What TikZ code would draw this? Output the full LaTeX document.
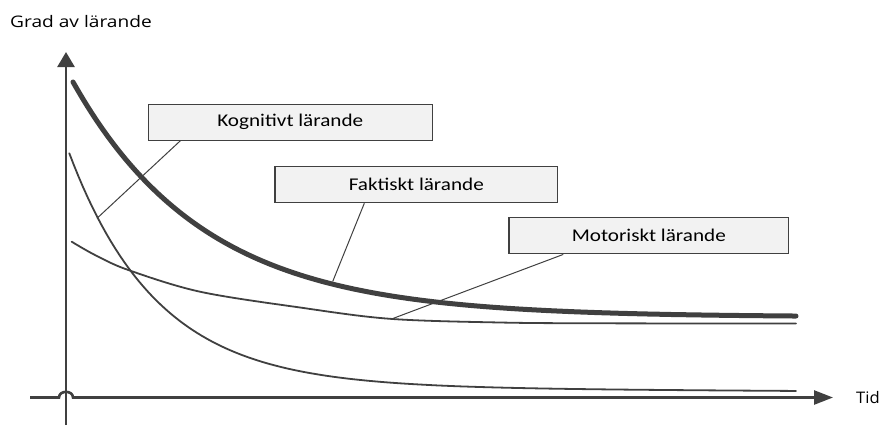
\documentclass[tikz,border=0pt]{standalone}
\usepackage{fontspec}
\setmainfont{Carlito}
\newfontfamily\axisfont{Open Sans}
\usetikzlibrary{arrows.meta}
\definecolor{ink}{RGB}{64,64,64}
\definecolor{boxfill}{RGB}{242,242,242}
% horizontally widened text, as set in the labels
\newcommand{\widetext}[2]{\scalebox{#1}[1]{#2}}

\begin{document}
\begin{tikzpicture}[x=1bp,y=-1bp,
  axis/.style={draw=ink, line width=2.6bp},
  curve/.style={draw=ink, line width=1.8bp, line cap=round},
  thickcurve/.style={draw=ink, line width=5bp, line cap=round},
  leader/.style={draw=ink, line width=1bp},
  labelbox/.style={draw=ink, fill=boxfill, line width=1.2bp, inner sep=0pt,
    minimum height=36bp, font=\fontsize{18}{22}\selectfont, text=black},
  axislabel/.style={font=\axisfont\fontsize{16}{18}\selectfont, text=black, inner sep=0pt}]
\useasboundingbox (0,0) rectangle (882,427);

% axes
\coordinate (ybot) at (66,425);
\coordinate (ytop) at (66,52);
\coordinate (xleft) at (30,397.5);
\coordinate (hopL) at (59,397.5);
\coordinate (hopR) at (73,397.5);
\coordinate (xright) at (833,397.5);
\draw[axis, -{Triangle[length=15bp,width=17bp]}] (ybot) -- (ytop);
\draw[axis, -{Triangle[length=19bp,width=14bp]}] (xleft) -- (hopL)
  .. controls (59,390) and (73,390) .. (hopR) -- (xright);

\node[axislabel, anchor=west] (ylab) at (10,22) {\widetext{1.2}{Grad av lärande}};
\node[axislabel, anchor=west] (xlab) at (856,398) {\widetext{1.04}{Tid}};

% learning curves
\draw[thickcurve] plot[domain=73:796, samples=150]
  (\x, {317 - 235*exp(-(\x-73)/132)});
\draw[curve] plot[domain=69.3:796, samples=160]
  (\x, {391 - 233.6*exp(-(\x-69.3)/88) - 0.0057*(796-\x)});
\draw[curve] plot[smooth, tension=0.55] coordinates {
  (71.7,241.7) (95,255) (128.3,270) (200,291.7) (300,307.5) (390,318.8)
  (500,322.5) (600,323.3) (796,323.5)};

% labels with leaders
\node[labelbox, minimum width=284bp] (kog) at (290.3,122.2) {\widetext{1.18}{Kognitivt lärande}};
\node[labelbox, minimum width=282.7bp] (fak) at (416.3,184.7) {\widetext{1.18}{Faktiskt lärande}};
\node[labelbox, minimum width=279.7bp] (mot) at (648.8,235.8) {\widetext{1.18}{Motoriskt lärande}};

\coordinate (kogEnd) at (97,218.3);
\coordinate (fakEnd) at (332.7,281.5);
\coordinate (motEnd) at (390.7,319.3);
\draw[leader] ([xshift=-110bp]kog.south) -- (kogEnd);
\draw[leader] ([xshift=-52bp]fak.south) -- (fakEnd);
\draw[leader] ([xshift=-85.5bp]mot.south) -- (motEnd);
\end{tikzpicture}
\end{document}
